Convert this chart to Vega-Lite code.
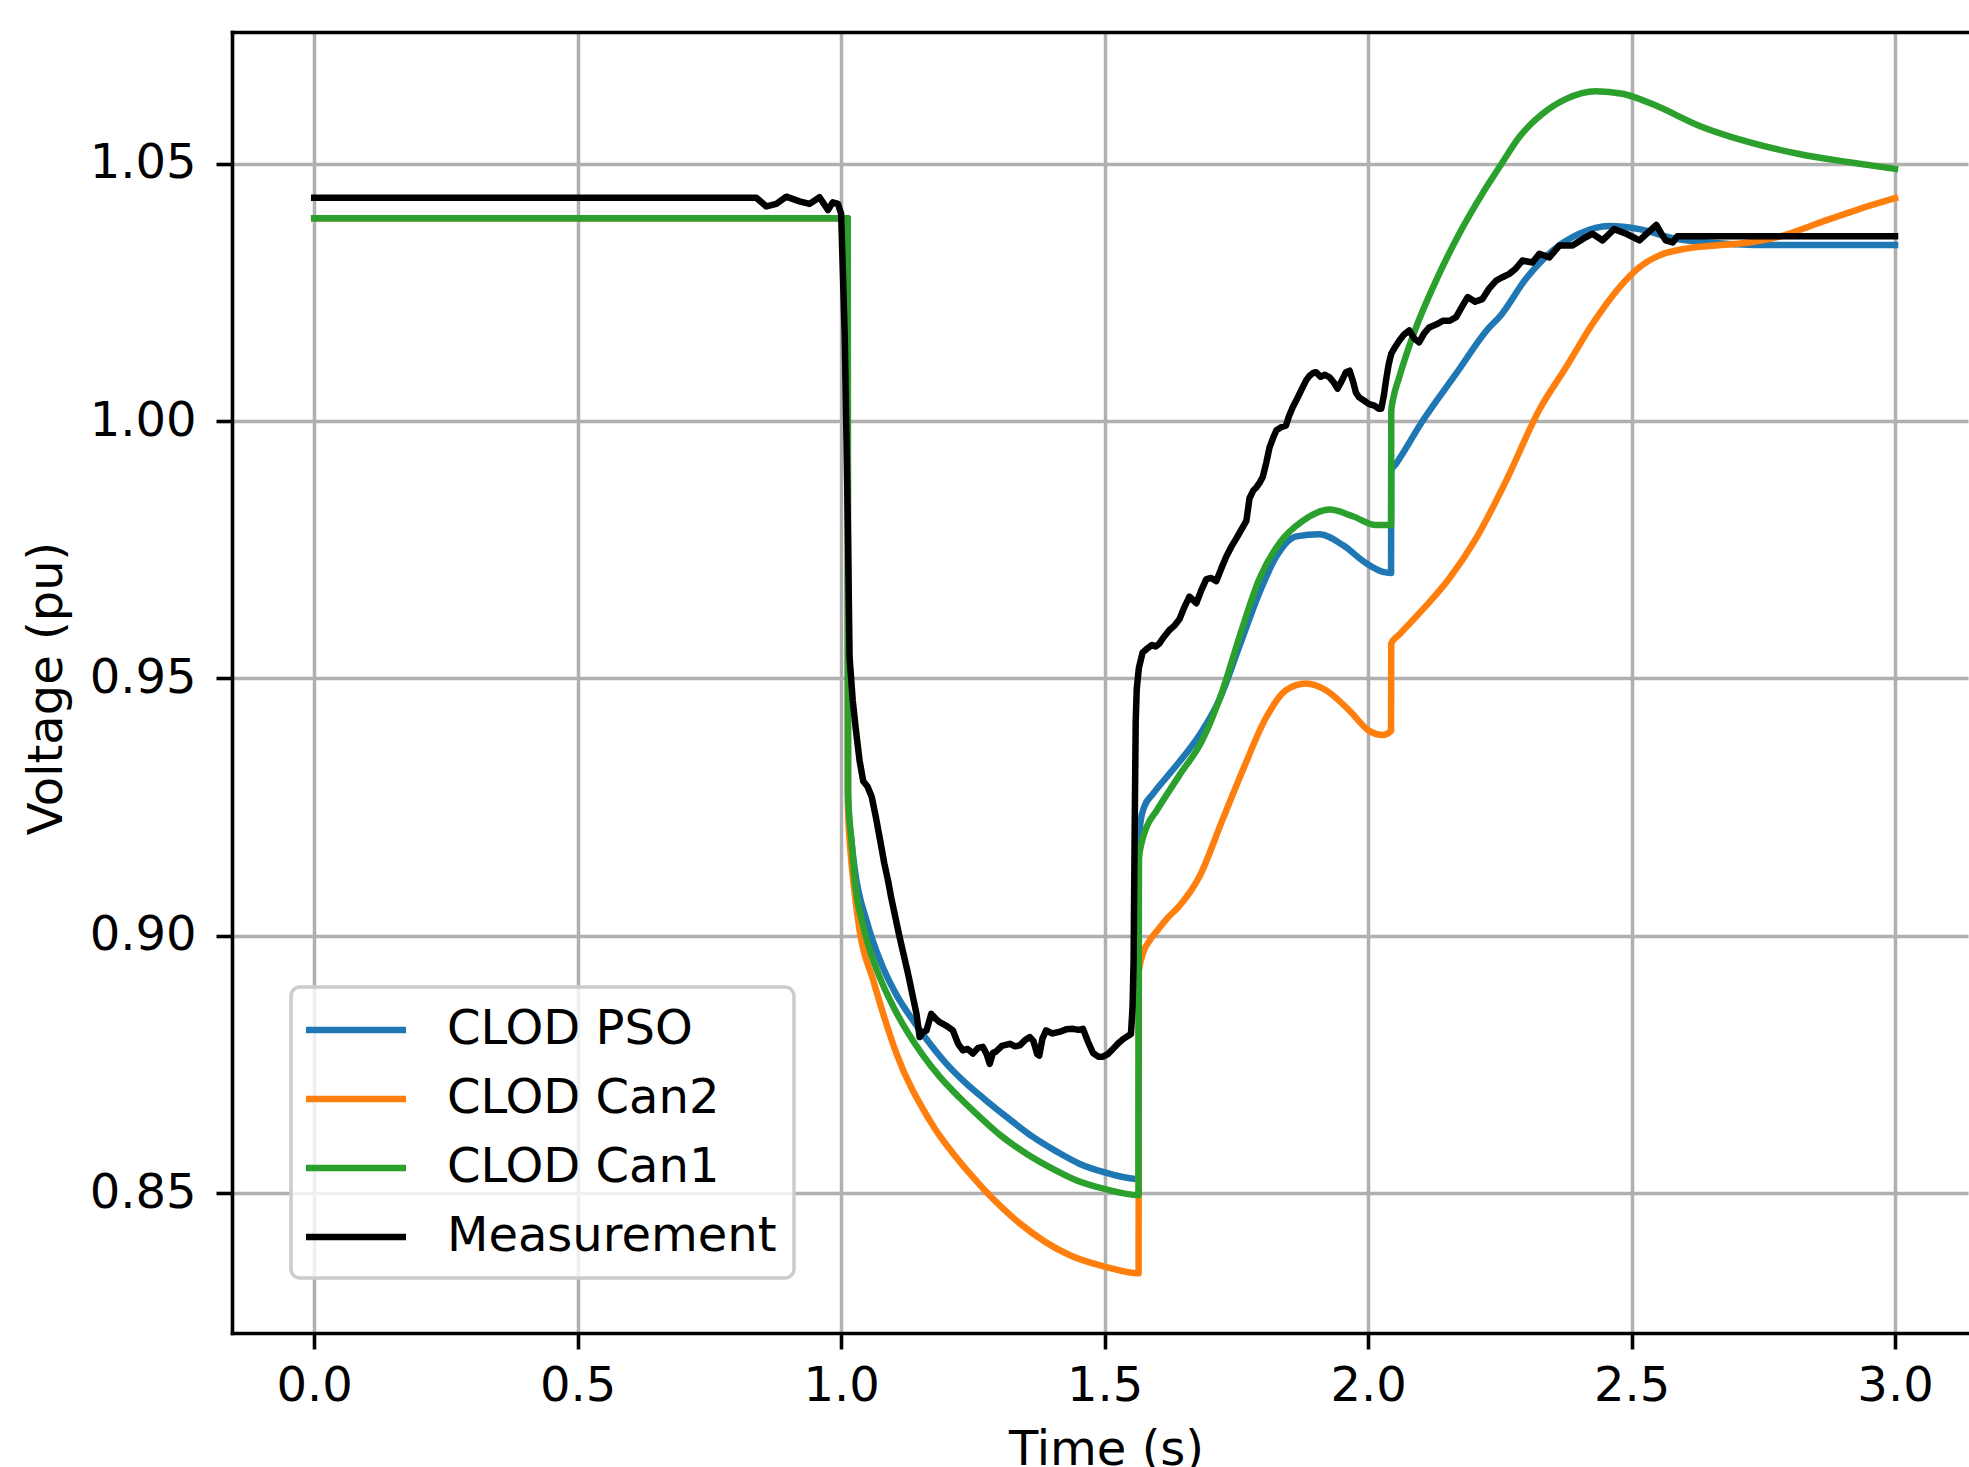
{
  "$schema": "https://vega.github.io/schema/vega-lite/v6.json",
  "width": 1736,
  "height": 1301,
  "autosize": {"type": "none"},
  "padding": {"left": 232, "top": 32, "right": 1, "bottom": 134},
  "background": "white",
  "config": {
    "view": {"stroke": null},
    "font": "DejaVu Sans",
    "axis": {
      "labelFont": "DejaVu Sans", "labelFontSize": 48, "labelColor": "#000",
      "titleFont": "DejaVu Sans", "titleFontSize": 48, "titleFontWeight": "normal", "titleColor": "#000",
      "tickColor": "#000", "tickWidth": 3.6, "tickSize": 16,
      "domainColor": "#000", "domainWidth": 3.6, "domainCap": "square",
      "gridColor": "#b0b0b0", "gridWidth": 3.5, "gridOpacity": 1,
      "labelFlush": false, "labelOverlap": false
    },
    "legend": {
      "orient": "none", "legendX": 59, "legendY": 955,
      "labelFont": "DejaVu Sans", "labelFontSize": 48, "labelColor": "#000", "labelLimit": 0,
      "symbolType": "M-1.244,0H3.2", "symbolSize": 2025, "symbolStrokeWidth": 6.5,
      "padding": 17, "rowPadding": 19, "labelOffset": 87,
      "fillColor": "rgba(255,255,255,0.8)", "strokeColor": "#cccccc", "strokeWidth": 3.5, "cornerRadius": 9
    }
  },
  "datasets": {
    "d": [
      {"s":"CLOD PSO","t":0,"v":1.0394},{"s":"CLOD PSO","t":1.0125,"v":1.0394},{"s":"CLOD PSO","t":1.013,"v":0.926},{"s":"CLOD PSO","t":1.02,"v":0.918},{"s":"CLOD PSO","t":1.029,"v":0.9107},{"s":"CLOD PSO","t":1.038,"v":0.9065},{"s":"CLOD PSO","t":1.048,"v":0.903},{"s":"CLOD PSO","t":1.06,"v":0.899},{"s":"CLOD PSO","t":1.079,"v":0.8939},{"s":"CLOD PSO","t":1.105,"v":0.8885},{"s":"CLOD PSO","t":1.136,"v":0.8836},{"s":"CLOD PSO","t":1.165,"v":0.8795},{"s":"CLOD PSO","t":1.2,"v":0.8751},{"s":"CLOD PSO","t":1.235,"v":0.8715},{"s":"CLOD PSO","t":1.275,"v":0.868},{"s":"CLOD PSO","t":1.32,"v":0.8643},{"s":"CLOD PSO","t":1.364,"v":0.8609},{"s":"CLOD PSO","t":1.41,"v":0.858},{"s":"CLOD PSO","t":1.452,"v":0.8557},{"s":"CLOD PSO","t":1.5,"v":0.854},{"s":"CLOD PSO","t":1.53,"v":0.8532},{"s":"CLOD PSO","t":1.5645,"v":0.8527},{"s":"CLOD PSO","t":1.565,"v":0.918},{"s":"CLOD PSO","t":1.568,"v":0.922},{"s":"CLOD PSO","t":1.575,"v":0.925},{"s":"CLOD PSO","t":1.5914,"v":0.9275},{"s":"CLOD PSO","t":1.6167,"v":0.9307},{"s":"CLOD PSO","t":1.642,"v":0.9338},{"s":"CLOD PSO","t":1.68,"v":0.939},{"s":"CLOD PSO","t":1.718,"v":0.9459},{"s":"CLOD PSO","t":1.756,"v":0.9563},{"s":"CLOD PSO","t":1.794,"v":0.9667},{"s":"CLOD PSO","t":1.826,"v":0.9737},{"s":"CLOD PSO","t":1.864,"v":0.9776},{"s":"CLOD PSO","t":1.908,"v":0.978},{"s":"CLOD PSO","t":1.952,"v":0.9759},{"s":"CLOD PSO","t":1.996,"v":0.9724},{"s":"CLOD PSO","t":2.028,"v":0.9707},{"s":"CLOD PSO","t":2.0436,"v":0.9705},{"s":"CLOD PSO","t":2.044,"v":0.9904},{"s":"CLOD PSO","t":2.053,"v":0.9917},{"s":"CLOD PSO","t":2.104,"v":1.0001},{"s":"CLOD PSO","t":2.167,"v":1.0092},{"s":"CLOD PSO","t":2.23,"v":1.0182},{"s":"CLOD PSO","t":2.249,"v":1.0202},{"s":"CLOD PSO","t":2.3,"v":1.0277},{"s":"CLOD PSO","t":2.35,"v":1.0331},{"s":"CLOD PSO","t":2.401,"v":1.0364},{"s":"CLOD PSO","t":2.458,"v":1.0379},{"s":"CLOD PSO","t":2.515,"v":1.0373},{"s":"CLOD PSO","t":2.584,"v":1.0354},{"s":"CLOD PSO","t":2.66,"v":1.0346},{"s":"CLOD PSO","t":2.755,"v":1.0342},{"s":"CLOD PSO","t":3.0,"v":1.0342},

      {"s":"CLOD Can2","t":0,"v":1.0394},{"s":"CLOD Can2","t":1.0125,"v":1.0394},{"s":"CLOD Can2","t":1.013,"v":0.925},{"s":"CLOD Can2","t":1.018,"v":0.916},{"s":"CLOD Can2","t":1.023,"v":0.9107},{"s":"CLOD Can2","t":1.035,"v":0.901},{"s":"CLOD Can2","t":1.061,"v":0.8913},{"s":"CLOD Can2","t":1.105,"v":0.8771},{"s":"CLOD Can2","t":1.168,"v":0.8641},{"s":"CLOD Can2","t":1.244,"v":0.8538},{"s":"CLOD Can2","t":1.339,"v":0.8441},{"s":"CLOD Can2","t":1.434,"v":0.8379},{"s":"CLOD Can2","t":1.5,"v":0.8357},{"s":"CLOD Can2","t":1.5645,"v":0.8344},{"s":"CLOD Can2","t":1.565,"v":0.893},{"s":"CLOD Can2","t":1.5725,"v":0.8965},{"s":"CLOD Can2","t":1.585,"v":0.899},{"s":"CLOD Can2","t":1.6,"v":0.901},{"s":"CLOD Can2","t":1.62,"v":0.9035},{"s":"CLOD Can2","t":1.642,"v":0.9058},{"s":"CLOD Can2","t":1.68,"v":0.9115},{"s":"CLOD Can2","t":1.724,"v":0.9226},{"s":"CLOD Can2","t":1.762,"v":0.9321},{"s":"CLOD Can2","t":1.807,"v":0.9425},{"s":"CLOD Can2","t":1.844,"v":0.9477},{"s":"CLOD Can2","t":1.882,"v":0.949},{"s":"CLOD Can2","t":1.92,"v":0.9477},{"s":"CLOD Can2","t":1.965,"v":0.9437},{"s":"CLOD Can2","t":2.002,"v":0.9398},{"s":"CLOD Can2","t":2.028,"v":0.939},{"s":"CLOD Can2","t":2.0436,"v":0.9398},{"s":"CLOD Can2","t":2.044,"v":0.9568},{"s":"CLOD Can2","t":2.059,"v":0.9585},{"s":"CLOD Can2","t":2.103,"v":0.9633},{"s":"CLOD Can2","t":2.154,"v":0.9694},{"s":"CLOD Can2","t":2.205,"v":0.9772},{"s":"CLOD Can2","t":2.262,"v":0.9884},{"s":"CLOD Can2","t":2.325,"v":1.0022},{"s":"CLOD Can2","t":2.376,"v":1.0105},{"s":"CLOD Can2","t":2.426,"v":1.0189},{"s":"CLOD Can2","t":2.477,"v":1.026},{"s":"CLOD Can2","t":2.515,"v":1.0299},{"s":"CLOD Can2","t":2.553,"v":1.0322},{"s":"CLOD Can2","t":2.603,"v":1.0335},{"s":"CLOD Can2","t":2.66,"v":1.0341},{"s":"CLOD Can2","t":2.723,"v":1.0347},{"s":"CLOD Can2","t":2.786,"v":1.036},{"s":"CLOD Can2","t":2.85,"v":1.0383},{"s":"CLOD Can2","t":2.932,"v":1.0412},{"s":"CLOD Can2","t":3.0,"v":1.0433},

      {"s":"CLOD Can1","t":0,"v":1.0394},{"s":"CLOD Can1","t":1.0125,"v":1.0394},{"s":"CLOD Can1","t":1.013,"v":0.928},{"s":"CLOD Can1","t":1.02,"v":0.918},{"s":"CLOD Can1","t":1.026,"v":0.9107},{"s":"CLOD Can1","t":1.041,"v":0.9023},{"s":"CLOD Can1","t":1.055,"v":0.897},{"s":"CLOD Can1","t":1.073,"v":0.892},{"s":"CLOD Can1","t":1.1,"v":0.886},{"s":"CLOD Can1","t":1.124,"v":0.8816},{"s":"CLOD Can1","t":1.155,"v":0.8768},{"s":"CLOD Can1","t":1.187,"v":0.8726},{"s":"CLOD Can1","t":1.225,"v":0.8685},{"s":"CLOD Can1","t":1.263,"v":0.8648},{"s":"CLOD Can1","t":1.305,"v":0.861},{"s":"CLOD Can1","t":1.351,"v":0.8577},{"s":"CLOD Can1","t":1.4,"v":0.8548},{"s":"CLOD Can1","t":1.446,"v":0.8525},{"s":"CLOD Can1","t":1.5,"v":0.8508},{"s":"CLOD Can1","t":1.5645,"v":0.8496},{"s":"CLOD Can1","t":1.565,"v":0.915},{"s":"CLOD Can1","t":1.57,"v":0.918},{"s":"CLOD Can1","t":1.58,"v":0.9212},{"s":"CLOD Can1","t":1.598,"v":0.9242},{"s":"CLOD Can1","t":1.642,"v":0.9312},{"s":"CLOD Can1","t":1.686,"v":0.9381},{"s":"CLOD Can1","t":1.724,"v":0.9477},{"s":"CLOD Can1","t":1.756,"v":0.9581},{"s":"CLOD Can1","t":1.794,"v":0.9694},{"s":"CLOD Can1","t":1.832,"v":0.9763},{"s":"CLOD Can1","t":1.876,"v":0.9806},{"s":"CLOD Can1","t":1.927,"v":0.9828},{"s":"CLOD Can1","t":1.971,"v":0.9815},{"s":"CLOD Can1","t":2.015,"v":0.9798},{"s":"CLOD Can1","t":2.0436,"v":0.9798},{"s":"CLOD Can1","t":2.044,"v":1.002},{"s":"CLOD Can1","t":2.048,"v":1.0045},{"s":"CLOD Can1","t":2.059,"v":1.0085},{"s":"CLOD Can1","t":2.091,"v":1.0182},{"s":"CLOD Can1","t":2.129,"v":1.0273},{"s":"CLOD Can1","t":2.173,"v":1.0364},{"s":"CLOD Can1","t":2.217,"v":1.0442},{"s":"CLOD Can1","t":2.249,"v":1.0493},{"s":"CLOD Can1","t":2.287,"v":1.0552},{"s":"CLOD Can1","t":2.331,"v":1.0597},{"s":"CLOD Can1","t":2.376,"v":1.0626},{"s":"CLOD Can1","t":2.432,"v":1.0641},{"s":"CLOD Can1","t":2.483,"v":1.0636},{"s":"CLOD Can1","t":2.546,"v":1.0613},{"s":"CLOD Can1","t":2.628,"v":1.0574},{"s":"CLOD Can1","t":2.723,"v":1.0542},{"s":"CLOD Can1","t":2.818,"v":1.0519},{"s":"CLOD Can1","t":2.913,"v":1.0503},{"s":"CLOD Can1","t":3.0,"v":1.049},

      {"s":"Measurement","t":0,"v":1.0434},{"s":"Measurement","t":0.839,"v":1.0434},{"s":"Measurement","t":0.858,"v":1.0417},{"s":"Measurement","t":0.877,"v":1.0422},{"s":"Measurement","t":0.896,"v":1.0436},{"s":"Measurement","t":0.921,"v":1.0427},{"s":"Measurement","t":0.94,"v":1.0422},{"s":"Measurement","t":0.959,"v":1.0435},{"s":"Measurement","t":0.975,"v":1.041},{"s":"Measurement","t":0.984,"v":1.0425},{"s":"Measurement","t":0.994,"v":1.0422},{"s":"Measurement","t":1.0,"v":1.0403},{"s":"Measurement","t":1.0067,"v":1.0169},{"s":"Measurement","t":1.01,"v":0.9975},{"s":"Measurement","t":1.013,"v":0.9781},{"s":"Measurement","t":1.016,"v":0.9541},{"s":"Measurement","t":1.022,"v":0.9457},{"s":"Measurement","t":1.028,"v":0.94},{"s":"Measurement","t":1.035,"v":0.934},{"s":"Measurement","t":1.042,"v":0.93},{"s":"Measurement","t":1.05,"v":0.929},{"s":"Measurement","t":1.058,"v":0.927},{"s":"Measurement","t":1.066,"v":0.923},{"s":"Measurement","t":1.075,"v":0.918},{"s":"Measurement","t":1.082,"v":0.914},{"s":"Measurement","t":1.089,"v":0.9107},{"s":"Measurement","t":1.095,"v":0.9074},{"s":"Measurement","t":1.111,"v":0.8997},{"s":"Measurement","t":1.127,"v":0.8926},{"s":"Measurement","t":1.143,"v":0.8848},{"s":"Measurement","t":1.149,"v":0.8803},{"s":"Measurement","t":1.155,"v":0.8812},{"s":"Measurement","t":1.162,"v":0.8816},{"s":"Measurement","t":1.171,"v":0.8848},{"s":"Measurement","t":1.18,"v":0.8838},{"s":"Measurement","t":1.187,"v":0.8832},{"s":"Measurement","t":1.2,"v":0.8825},{"s":"Measurement","t":1.212,"v":0.8816},{"s":"Measurement","t":1.222,"v":0.879},{"s":"Measurement","t":1.231,"v":0.8777},{"s":"Measurement","t":1.24,"v":0.878},{"s":"Measurement","t":1.25,"v":0.8771},{"s":"Measurement","t":1.26,"v":0.8782},{"s":"Measurement","t":1.269,"v":0.8784},{"s":"Measurement","t":1.276,"v":0.877},{"s":"Measurement","t":1.282,"v":0.8751},{"s":"Measurement","t":1.288,"v":0.8772},{"s":"Measurement","t":1.294,"v":0.8775},{"s":"Measurement","t":1.305,"v":0.8786},{"s":"Measurement","t":1.32,"v":0.879},{"s":"Measurement","t":1.33,"v":0.8785},{"s":"Measurement","t":1.339,"v":0.8787},{"s":"Measurement","t":1.35,"v":0.8798},{"s":"Measurement","t":1.358,"v":0.8803},{"s":"Measurement","t":1.365,"v":0.8795},{"s":"Measurement","t":1.372,"v":0.877},{"s":"Measurement","t":1.376,"v":0.8767},{"s":"Measurement","t":1.382,"v":0.88},{"s":"Measurement","t":1.389,"v":0.8816},{"s":"Measurement","t":1.4,"v":0.881},{"s":"Measurement","t":1.414,"v":0.8813},{"s":"Measurement","t":1.427,"v":0.8818},{"s":"Measurement","t":1.44,"v":0.8819},{"s":"Measurement","t":1.45,"v":0.8817},{"s":"Measurement","t":1.459,"v":0.8819},{"s":"Measurement","t":1.468,"v":0.8795},{"s":"Measurement","t":1.478,"v":0.8772},{"s":"Measurement","t":1.488,"v":0.8765},{"s":"Measurement","t":1.497,"v":0.8765},{"s":"Measurement","t":1.506,"v":0.877},{"s":"Measurement","t":1.516,"v":0.878},{"s":"Measurement","t":1.525,"v":0.879},{"s":"Measurement","t":1.535,"v":0.8799},{"s":"Measurement","t":1.55,"v":0.8809},{"s":"Measurement","t":1.553,"v":0.8861},{"s":"Measurement","t":1.555,"v":0.895},{"s":"Measurement","t":1.557,"v":0.92},{"s":"Measurement","t":1.559,"v":0.9416},{"s":"Measurement","t":1.561,"v":0.948},{"s":"Measurement","t":1.565,"v":0.952},{"s":"Measurement","t":1.572,"v":0.955},{"s":"Measurement","t":1.582,"v":0.9559},{"s":"Measurement","t":1.59,"v":0.9565},{"s":"Measurement","t":1.597,"v":0.9562},{"s":"Measurement","t":1.604,"v":0.9568},{"s":"Measurement","t":1.612,"v":0.958},{"s":"Measurement","t":1.623,"v":0.9594},{"s":"Measurement","t":1.632,"v":0.9602},{"s":"Measurement","t":1.642,"v":0.9615},{"s":"Measurement","t":1.652,"v":0.964},{"s":"Measurement","t":1.661,"v":0.9659},{"s":"Measurement","t":1.668,"v":0.9652},{"s":"Measurement","t":1.674,"v":0.9646},{"s":"Measurement","t":1.683,"v":0.967},{"s":"Measurement","t":1.693,"v":0.9693},{"s":"Measurement","t":1.702,"v":0.9695},{"s":"Measurement","t":1.712,"v":0.9689},{"s":"Measurement","t":1.722,"v":0.9715},{"s":"Measurement","t":1.731,"v":0.9737},{"s":"Measurement","t":1.74,"v":0.9755},{"s":"Measurement","t":1.75,"v":0.9772},{"s":"Measurement","t":1.76,"v":0.979},{"s":"Measurement","t":1.769,"v":0.9806},{"s":"Measurement","t":1.775,"v":0.985},{"s":"Measurement","t":1.782,"v":0.9865},{"s":"Measurement","t":1.788,"v":0.9871},{"s":"Measurement","t":1.794,"v":0.988},{"s":"Measurement","t":1.8,"v":0.9891},{"s":"Measurement","t":1.807,"v":0.992},{"s":"Measurement","t":1.813,"v":0.9949},{"s":"Measurement","t":1.82,"v":0.9968},{"s":"Measurement","t":1.826,"v":0.9982},{"s":"Measurement","t":1.835,"v":0.9988},{"s":"Measurement","t":1.844,"v":0.9991},{"s":"Measurement","t":1.85,"v":1.001},{"s":"Measurement","t":1.857,"v":1.0027},{"s":"Measurement","t":1.866,"v":1.0045},{"s":"Measurement","t":1.876,"v":1.0066},{"s":"Measurement","t":1.883,"v":1.008},{"s":"Measurement","t":1.889,"v":1.0088},{"s":"Measurement","t":1.895,"v":1.0093},{"s":"Measurement","t":1.901,"v":1.0095},{"s":"Measurement","t":1.91,"v":1.0086},{"s":"Measurement","t":1.918,"v":1.009},{"s":"Measurement","t":1.927,"v":1.0085},{"s":"Measurement","t":1.935,"v":1.0075},{"s":"Measurement","t":1.942,"v":1.0063},{"s":"Measurement","t":1.95,"v":1.0078},{"s":"Measurement","t":1.958,"v":1.0095},{"s":"Measurement","t":1.965,"v":1.0098},{"s":"Measurement","t":1.972,"v":1.0075},{"s":"Measurement","t":1.977,"v":1.0055},{"s":"Measurement","t":1.983,"v":1.0046},{"s":"Measurement","t":1.992,"v":1.004},{"s":"Measurement","t":2.002,"v":1.0033},{"s":"Measurement","t":2.012,"v":1.003},{"s":"Measurement","t":2.02,"v":1.0024},{"s":"Measurement","t":2.025,"v":1.0024},{"s":"Measurement","t":2.03,"v":1.005},{"s":"Measurement","t":2.034,"v":1.0079},{"s":"Measurement","t":2.039,"v":1.011},{"s":"Measurement","t":2.044,"v":1.0131},{"s":"Measurement","t":2.052,"v":1.0145},{"s":"Measurement","t":2.059,"v":1.0156},{"s":"Measurement","t":2.068,"v":1.0168},{"s":"Measurement","t":2.078,"v":1.0176},{"s":"Measurement","t":2.088,"v":1.016},{"s":"Measurement","t":2.097,"v":1.0153},{"s":"Measurement","t":2.106,"v":1.017},{"s":"Measurement","t":2.116,"v":1.0182},{"s":"Measurement","t":2.13,"v":1.0188},{"s":"Measurement","t":2.142,"v":1.0195},{"s":"Measurement","t":2.155,"v":1.0195},{"s":"Measurement","t":2.167,"v":1.0202},{"s":"Measurement","t":2.178,"v":1.0222},{"s":"Measurement","t":2.189,"v":1.0241},{"s":"Measurement","t":2.203,"v":1.0232},{"s":"Measurement","t":2.217,"v":1.0237},{"s":"Measurement","t":2.23,"v":1.0258},{"s":"Measurement","t":2.243,"v":1.0273},{"s":"Measurement","t":2.256,"v":1.028},{"s":"Measurement","t":2.268,"v":1.0286},{"s":"Measurement","t":2.28,"v":1.0296},{"s":"Measurement","t":2.293,"v":1.0312},{"s":"Measurement","t":2.312,"v":1.0308},{"s":"Measurement","t":2.325,"v":1.0325},{"s":"Measurement","t":2.344,"v":1.0318},{"s":"Measurement","t":2.363,"v":1.0341},{"s":"Measurement","t":2.388,"v":1.0341},{"s":"Measurement","t":2.413,"v":1.0357},{"s":"Measurement","t":2.426,"v":1.0364},{"s":"Measurement","t":2.445,"v":1.0351},{"s":"Measurement","t":2.467,"v":1.0373},{"s":"Measurement","t":2.49,"v":1.0364},{"s":"Measurement","t":2.515,"v":1.0351},{"s":"Measurement","t":2.53,"v":1.0365},{"s":"Measurement","t":2.547,"v":1.0381},{"s":"Measurement","t":2.556,"v":1.0365},{"s":"Measurement","t":2.565,"v":1.0351},{"s":"Measurement","t":2.578,"v":1.0347},{"s":"Measurement","t":2.587,"v":1.0359},{"s":"Measurement","t":3.0,"v":1.0359}
    ]
  },
  "data": {"name": "d"},
  "encoding": {
    "y": {
      "field": "v", "type": "quantitative",
      "scale": {"domain": [0.8228, 1.0756], "nice": false, "zero": false},
      "axis": {
        "values": [0.85, 0.9, 0.95, 1.0, 1.05], "format": ".2f",
        "title": "Voltage (pu)", "titleX": -171, "titleY": 656, "titleBaseline": "alphabetic", "titleAlign": "center", "titleAngle": 270,
        "labelPadding": 20
      }
    }
  },
  "layer": [
    {
      "transform": [{"filter": "datum.s !== 'Measurement'"}],
      "mark": {"type": "line", "strokeWidth": 6.5, "strokeJoin": "round", "strokeCap": "square", "interpolate": "monotone"},
      "encoding": {
        "x": {
          "field": "t", "type": "quantitative",
          "scale": {"domain": [-0.156, 3.1385], "nice": false, "zero": false},
          "axis": {
            "orient": "bottom",
            "values": [0, 0.5, 1, 1.5, 2, 2.5, 3], "format": ".1f",
            "title": "Time (s)", "titleX": 874, "titleY": 131, "titleBaseline": "alphabetic", "titleAlign": "center",
            "labelBaseline": "alphabetic", "labelPadding": 51
          }
        },
        "color": {
          "field": "s", "type": "nominal",
          "scale": {"domain": ["CLOD PSO", "CLOD Can2", "CLOD Can1", "Measurement"], "range": ["#1f77b4", "#ff7f0e", "#2ca02c", "#000000"]},
          "legend": {"title": null}
        }
      }
    },
    {
      "transform": [{"filter": "datum.s === 'Measurement'"}],
      "mark": {"type": "line", "strokeWidth": 6.5, "strokeJoin": "round", "strokeCap": "square"},
      "encoding": {
        "x": {"field": "t", "type": "quantitative", "axis": null},
        "color": {"field": "s", "type": "nominal", "legend": {"title": null}}
      }
    },
    {
      "mark": {"type": "line", "opacity": 0},
      "encoding": {
        "x": {"field": "t", "type": "quantitative", "axis": {"orient": "top", "labels": false, "ticks": false, "grid": false, "domain": true, "title": null}}
      }
    }
  ],
  "resolve": {"axis": {"x": "independent"}}
}
